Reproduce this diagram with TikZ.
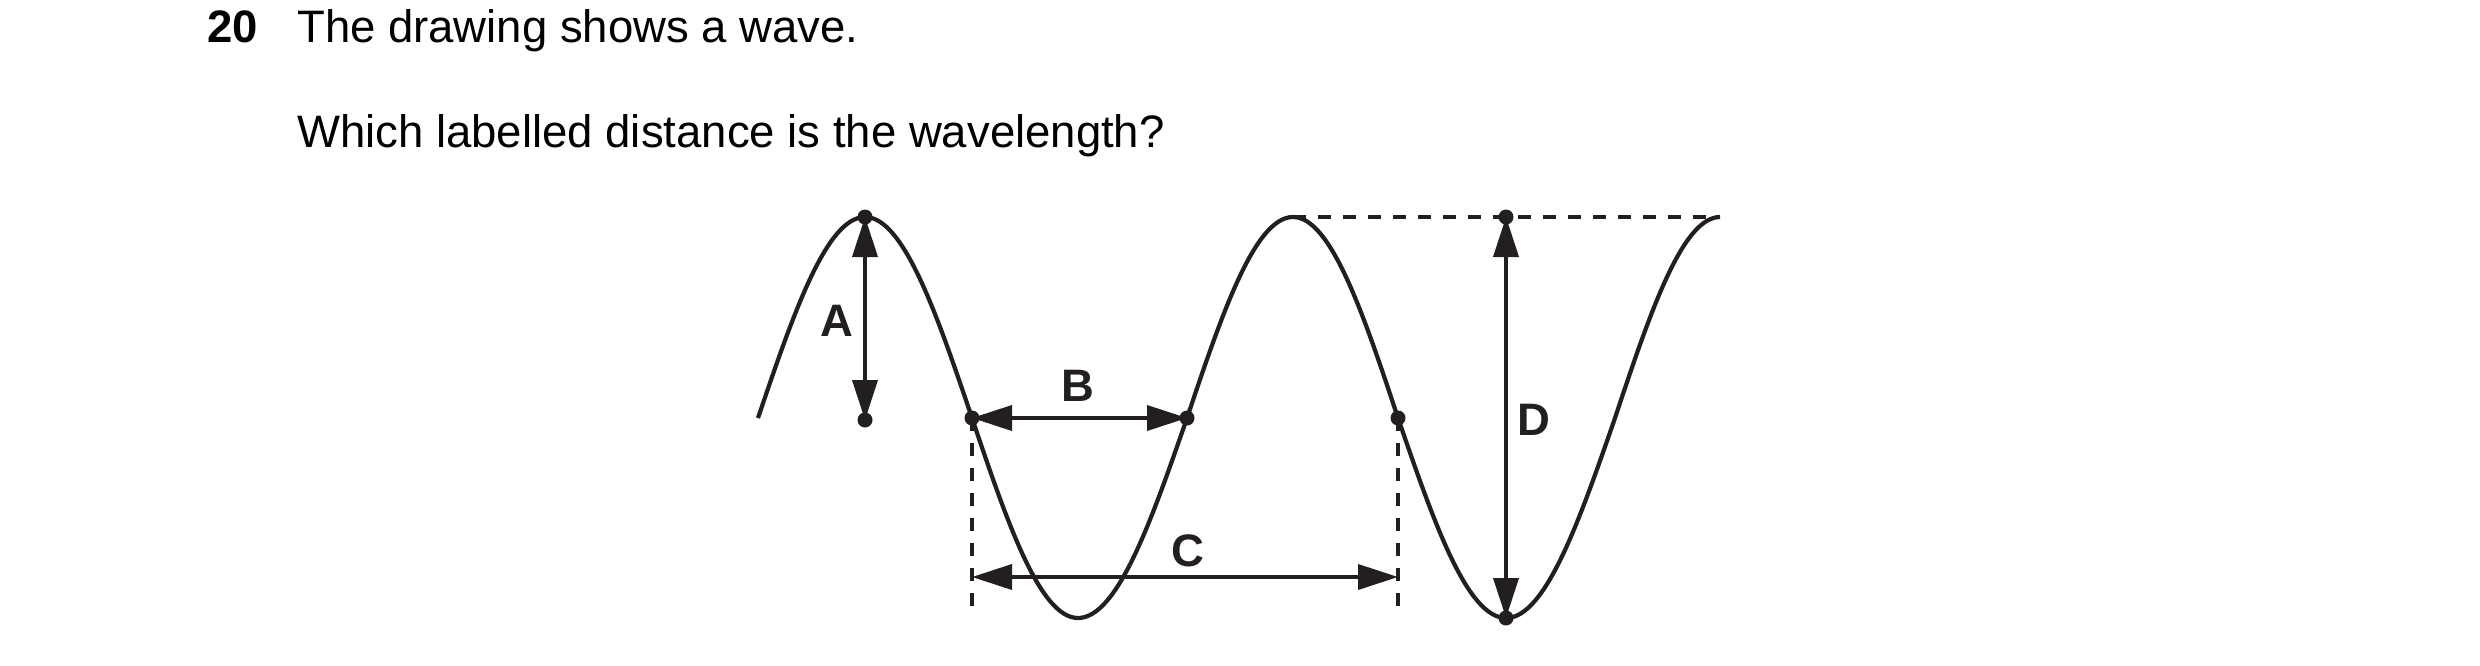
\documentclass[tikz,border=0pt]{standalone}
\usepackage{fontspec}
\setmainfont{Liberation Sans}
\usetikzlibrary{arrows.meta}
\definecolor{ink}{RGB}{35,31,32}
\tikzset{
  wave/.style={line width=4.2pt, draw=ink},
  dimarrow/.style={line width=3.8pt, draw=ink, {Triangle[length=40pt,width=25pt]}-{Triangle[length=40pt,width=25pt]}},
  guide/.style={line width=3.2pt, draw=ink, dash pattern=on 13pt off 12pt},
  dot/.style={circle, fill=ink, inner sep=0pt, minimum size=15pt},
  lbl/.style={inner sep=0pt, text=ink, font=\fontsize{45.5pt}{50pt}\selectfont\bfseries},
  qtext/.style={inner sep=0pt, anchor=base west, font=\fontsize{45.5pt}{50pt}\selectfont}
}
\begin{document}
\begin{tikzpicture}[x=1pt,y=-1pt]
\useasboundingbox (0,0) rectangle (2480,665);
% question text
\node[qtext, font=\fontsize{45.5pt}{50pt}\selectfont\bfseries] (num) at (207,42) {20};
\node[qtext] (q1) at (297,42) {The drawing shows a wave.};
\node[qtext] (q2) at (297,147) {Which labelled distance is the wavelength?};
% key points
\coordinate (w0) at (758,418);
\coordinate (p1) at (865,217);
\coordinate (z1) at (972,418);
\coordinate (t1) at (1078,618);
\coordinate (z2) at (1187,418);
\coordinate (p2) at (1293,217);
\coordinate (z3) at (1398,418);
\coordinate (t2) at (1506,618);
\coordinate (z4) at (1615,418);
\coordinate (p3) at (1720,217);
\coordinate (aB) at (865,420);
\coordinate (dT) at (1506,217);
\coordinate (g1) at (972,610);
\coordinate (g2) at (1398,610);
\coordinate (cL) at (972,577);
\coordinate (cR) at (1398,577);
% guides
\draw[guide] (z1) -- (g1);
\draw[guide] (z3) -- (g2);
\draw[guide] (p2) -- (p3);
% wave
\draw[wave] (w0) sin (p1) cos (z1) sin (t1) cos (z2) sin (p2) cos (z3) sin (t2) cos (z4) sin (p3);
% dimension arrows
\draw[dimarrow] (p1) -- (aB);
\draw[dimarrow] (z1) -- (z2);
\draw[dimarrow] (cL) -- (cR);
\draw[dimarrow] (dT) -- (t2);
% dots
\node[dot] (dp1) at (p1) {};
\node[dot] (daB) at (aB) {};
\node[dot] (dz1) at (z1) {};
\node[dot] (dz2) at (z2) {};
\node[dot] (dz3) at (z3) {};
\node[dot] (ddT) at (dT) {};
\node[dot] (dt2) at (t2) {};
% labels
\node[lbl] (A) at (837,321) {A};
\node[lbl] (B) at (1078,386) {B};
\node[lbl] (C) at (1188,551) {C};
\node[lbl] (D) at (1534,420) {D};
\end{tikzpicture}
\end{document}
